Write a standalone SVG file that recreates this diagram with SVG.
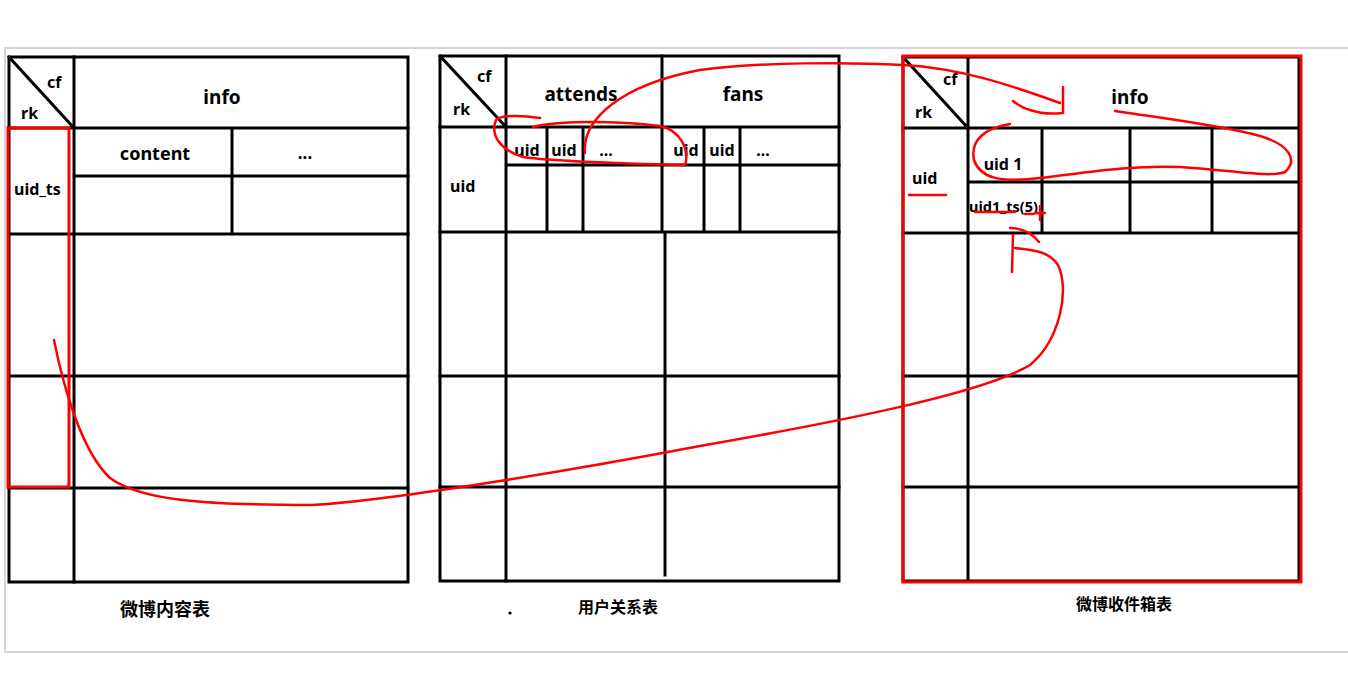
<svg xmlns="http://www.w3.org/2000/svg" width="1348" height="699" viewBox="0 0 1348 699">
<style>
.t{fill:none;stroke:#000;stroke-width:3;stroke-linecap:square}
.r{fill:none;stroke:#f00;stroke-width:2.5;stroke-linecap:round;stroke-linejoin:round}
.rb{fill:none;stroke:#f00;stroke-width:3}
.l{font-family:"Noto Sans","Open Sans",sans-serif;font-weight:bold;fill:#000}
.c{font-family:"Noto Sans CJK SC",sans-serif;font-weight:bold;fill:#000;text-anchor:middle}
.m{text-anchor:middle}
</style>
<rect x="0" y="0" width="1348" height="699" fill="#fff"/>
<rect x="5" y="48" width="1350" height="604" fill="#fff" stroke="#d4d4d4" stroke-width="2"/>

<g id="table-content">
<rect class="t" x="9" y="57" width="399" height="525"/>
<path class="t" d="M74 57V582M9 57L74 128M9 128H408M74 176H408M232 128V234M9 234H408M9 376H408M9 488H408"/>
<text class="l" x="47" y="88" font-size="16">cf</text>
<text class="l" x="21" y="119" font-size="16">rk</text>
<text class="l m" x="222" y="104" font-size="19">info</text>
<text class="l m" x="155" y="160" font-size="18">content</text>
<text class="l m" x="305" y="159" font-size="17">...</text>
<text class="l" x="14" y="195" font-size="16">uid_ts</text>
<text class="c" x="165" y="616" font-size="18">微博内容表</text>
</g>

<g id="table-relation">
<rect class="t" x="440" y="56" width="399" height="525"/>
<path class="t" d="M506 56V581M662 56V232M665 232V575M440 56L506 127M440 127H839M506 165H839M547 127V232M583 127V232M704 127V232M740 127V232M440 232H839M440 376H839M440 487H839"/>
<text class="l" x="477" y="82" font-size="16">cf</text>
<text class="l" x="453" y="115" font-size="16">rk</text>
<text class="l m" x="581" y="101" font-size="19">attends</text>
<text class="l m" x="743" y="101" font-size="19">fans</text>
<text class="l m" x="527" y="156" font-size="16">uid</text>
<text class="l m" x="564" y="156" font-size="16">uid</text>
<text class="l m" x="606" y="156" font-size="16">...</text>
<text class="l m" x="686" y="156" font-size="16">uid</text>
<text class="l m" x="722" y="156" font-size="16">uid</text>
<text class="l m" x="763" y="156" font-size="16">...</text>
<text class="l" x="450" y="192" font-size="16">uid</text>
<circle cx="510" cy="613" r="1.6" fill="#000"/>
<text class="c" x="618" y="613" font-size="16">用户关系表</text>
</g>

<g id="table-inbox">
<rect class="t" x="903" y="57" width="396" height="524"/>
<path class="t" d="M968 57V581M903 57L968 128M903 128H1299M968 182H1299M1042 128V233M1130 128V233M1212 128V233M903 233H1299M903 376H1299M903 487H1299"/>
<rect class="rb" x="903" y="56" width="398" height="526"/>
<text class="l" x="943" y="85" font-size="16">cf</text>
<text class="l" x="915" y="118" font-size="16">rk</text>
<text class="l m" x="1130" y="104" font-size="19">info</text>
<text class="l" x="912" y="184" font-size="16">uid</text>
<text class="l m" x="1003" y="170" font-size="16">uid 1</text>
<text class="l" x="969" y="212" font-size="14.5">uid1_ts(5)</text>
<text class="c" x="1124" y="610" font-size="16">微博收件箱表</text>
</g>

<g id="connectors">
<rect class="rb" x="8" y="128" width="61" height="359"/>
<path class="r" d="M54 340C62 380 80 450 110 478C140 500 200 505 312 505C400 500 600 465 700 446C820 425 980 395 1030 365C1060 340 1070 290 1058 265C1048 250 1030 250 1015 248"/>
<path class="r" d="M1013 235L1012 272M1010 228Q1028 228 1039 242"/>
<path class="r" d="M975 212H1015M1025 214H1033M1035 213H1045M1040 206V220"/>
<path class="r" d="M540 118C520 115 500 115 496 120C490 135 500 150 523 157C560 162 640 164 685 165C690 150 680 130 660 126C620 121 560 120 533 127"/>
<path class="r" d="M585 153C582 120 620 85 700 70C760 62 850 62 903 65C960 68 1010 85 1060 103"/>
<path class="r" d="M1063 87V113M1013 101Q1022 108 1030 110Q1045 115 1062 113"/>
<path class="r" d="M1010 124C985 128 970 140 974 160C980 178 1000 183 1040 178C1090 172 1130 165 1180 167C1230 170 1270 178 1285 172C1298 160 1290 145 1260 136C1220 125 1160 118 1115 111"/>
<path class="r" d="M909 195H946"/>
</g>
</svg>
